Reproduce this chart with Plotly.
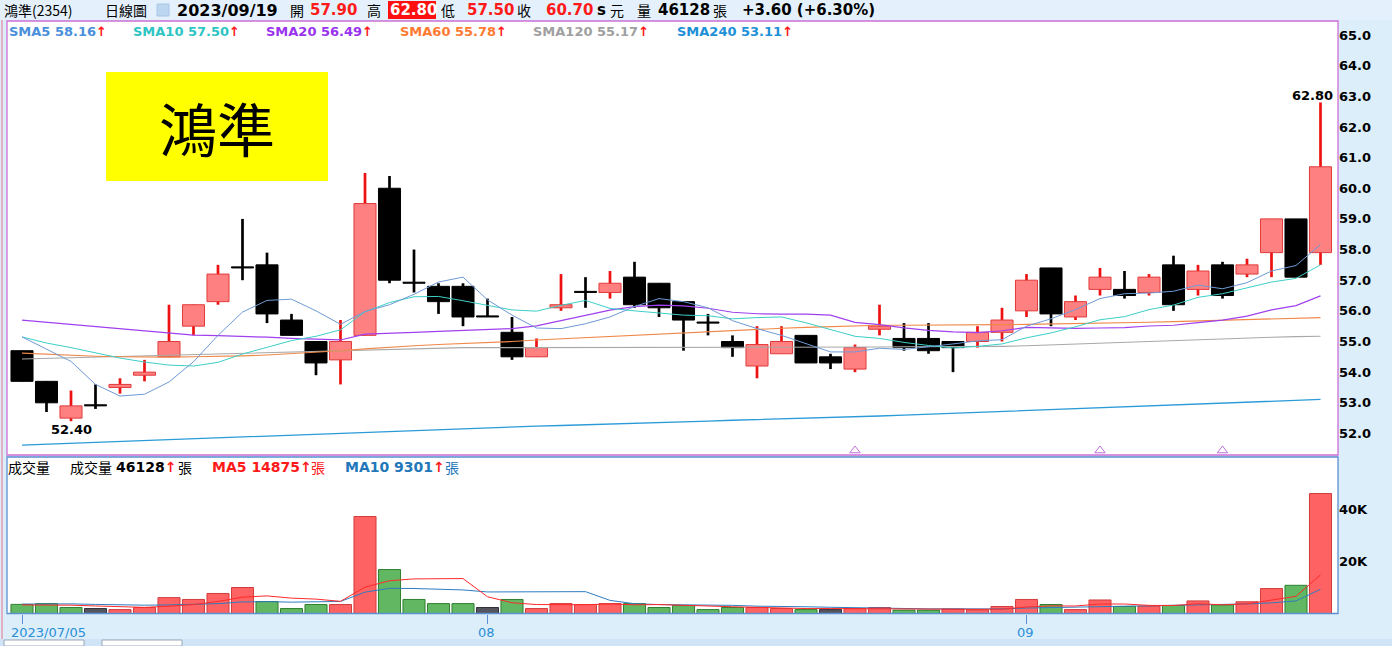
import plotly.graph_objects as go

# ---------------- data ----------------
dates = [
    "2023-07-05", "2023-07-06", "2023-07-07", "2023-07-10", "2023-07-11", "2023-07-12", "2023-07-13",
    "2023-07-14", "2023-07-17", "2023-07-18", "2023-07-19", "2023-07-20", "2023-07-21", "2023-07-24",
    "2023-07-25", "2023-07-26", "2023-07-27", "2023-07-28", "2023-07-31",
    "2023-08-01", "2023-08-02", "2023-08-04", "2023-08-07", "2023-08-08", "2023-08-09", "2023-08-10",
    "2023-08-11", "2023-08-14", "2023-08-15", "2023-08-16", "2023-08-17", "2023-08-18", "2023-08-21",
    "2023-08-22", "2023-08-23", "2023-08-24", "2023-08-25", "2023-08-28", "2023-08-29", "2023-08-30",
    "2023-08-31",
    "2023-09-01", "2023-09-04", "2023-09-05", "2023-09-06", "2023-09-07", "2023-09-08", "2023-09-11",
    "2023-09-12", "2023-09-13", "2023-09-14", "2023-09-15", "2023-09-18", "2023-09-19",
]
opens = [54.7, 53.7, 52.5, 52.9, 53.5, 53.9, 54.5, 55.5, 56.3, 57.4, 57.5, 55.7, 55.0, 54.4,
         55.2, 60.0, 56.9, 56.8, 56.8, 55.8, 55.3, 54.5, 56.1, 56.6, 56.6, 57.1, 56.9, 56.3,
         55.6, 55.0, 54.2, 54.6, 55.2, 54.5, 54.1, 55.4, 55.1, 55.1, 55.0, 55.0, 55.3, 56.0,
         57.4, 55.8, 56.7, 56.7, 56.6, 57.5, 56.7, 57.5, 57.2, 57.9, 59.0, 57.9]
highs = [54.7, 53.7, 53.4, 53.6, 53.8, 54.4, 56.2, 56.2, 57.5, 59.0, 57.9, 55.9, 55.0, 55.7,
         60.5, 60.4, 58.0, 56.9, 56.9, 56.4, 55.8, 55.1, 57.2, 57.1, 57.3, 57.6, 56.9, 56.3,
         55.9, 55.2, 55.5, 55.5, 55.2, 54.6, 54.9, 56.2, 55.6, 55.6, 55.0, 55.5, 56.1, 57.2,
         57.4, 56.5, 57.4, 57.3, 57.2, 57.8, 57.5, 57.6, 57.7, 59.0, 59.0, 62.8]
lows = [53.7, 52.7, 52.4, 52.8, 53.3, 53.7, 54.5, 55.2, 56.2, 57.0, 55.6, 55.2, 53.9, 53.6,
        55.2, 56.9, 56.6, 55.9, 55.5, 55.8, 54.4, 54.5, 56.0, 56.1, 56.4, 56.1, 55.8, 54.7,
        55.2, 54.5, 53.8, 54.6, 54.3, 54.1, 54.0, 55.2, 54.7, 54.6, 54.0, 54.8, 55.0, 55.8,
        55.5, 55.7, 56.5, 56.4, 56.5, 56.0, 56.5, 56.4, 57.1, 57.1, 57.1, 57.5]
closes = [53.7, 53.0, 52.9, 52.9, 53.6, 54.0, 55.0, 56.2, 57.2, 57.4, 55.9, 55.2, 54.3, 55.0,
          59.5, 57.0, 56.9, 56.3, 55.8, 55.8, 54.5, 54.8, 56.2, 56.6, 56.9, 56.2, 56.1, 55.7,
          55.6, 54.8, 54.9, 55.0, 54.3, 54.3, 54.8, 55.5, 54.8, 54.7, 54.8, 55.3, 55.7, 57.0,
          55.9, 56.3, 57.1, 56.5, 57.1, 56.2, 57.3, 56.5, 57.5, 59.0, 57.1, 60.7]
volumes = [3500, 3800, 2300, 1900, 1500, 2300, 6100, 5400, 7700, 10000, 4600, 1900, 3450, 3450,
           37300, 16900, 5400, 3800, 3800, 2300, 5400, 1900, 3800, 3450, 3800, 3800, 2300, 3050,
           1500, 2300, 2300, 1900, 1500, 1500, 1900, 2300, 1300, 1300, 1700, 1400, 2700, 5400,
           3450, 1500, 5200, 2700, 2800, 3100, 4835, 3300, 4500, 9600, 10847, 46128]

# moving-average values before enough in-window history
sma5_head = [55.15, 54.75, 54.35, 53.60]
sma10_head = [55.15, 54.95, 54.80, 54.62, 54.46, 54.33, 54.23, 54.20, 54.32]
sma20_head = [55.70, 55.63, 55.56, 55.48, 55.40, 55.33, 55.26, 55.21, 55.19, 55.17, 55.14,
              55.10, 55.07, 55.05, 55.24, 55.28, 55.30, 55.33, 55.36]
sma60 = [54.62, 54.58, 54.55, 54.52, 54.50, 54.49, 54.49, 54.50, 54.51, 54.53, 54.56, 54.60,
         54.64, 54.70, 54.76, 54.82, 54.86, 54.90, 54.93, 54.96, 55.00, 55.05, 55.09, 55.13,
         55.17, 55.21, 55.25, 55.29, 55.33, 55.37, 55.40, 55.43, 55.46, 55.49, 55.51, 55.53,
         55.53, 55.53, 55.53, 55.54, 55.55, 55.56, 55.57, 55.59, 55.60, 55.62, 55.63, 55.65,
         55.67, 55.69, 55.71, 55.73, 55.75, 55.78]
sma120 = [54.43, 54.45, 54.47, 54.49, 54.51, 54.53, 54.55, 54.57, 54.59, 54.61, 54.63, 54.65,
          54.67, 54.69, 54.72, 54.75, 54.77, 54.79, 54.80, 54.80, 54.80, 54.81, 54.81, 54.81,
          54.81, 54.82, 54.82, 54.82, 54.82, 54.82, 54.82, 54.82, 54.82, 54.82, 54.82, 54.82,
          54.83, 54.83, 54.83, 54.84, 54.84, 54.86, 54.89, 54.92, 54.95, 54.98, 55.01, 55.04,
          55.07, 55.10, 55.12, 55.14, 55.16, 55.17]
sma240 = [51.62, 51.65, 51.68, 51.71, 51.74, 51.77, 51.80, 51.83, 51.86, 51.89, 51.92, 51.95,
          51.98, 52.01, 52.04, 52.07, 52.11, 52.14, 52.16, 52.19, 52.21, 52.24, 52.26, 52.28,
          52.31, 52.33, 52.36, 52.38, 52.40, 52.43, 52.45, 52.47, 52.50, 52.52, 52.55, 52.57,
          52.60, 52.63, 52.66, 52.69, 52.72, 52.75, 52.78, 52.81, 52.84, 52.87, 52.90, 52.93,
          52.96, 52.99, 53.02, 53.05, 53.08, 53.11]
vma5_head = [3300, 3300, 3200, 2900]
vma10_head = [3600, 3700, 3700, 3500, 3300, 3200, 3300, 3500, 3800]
signal_idx = [34, 44, 49]

x_tick_idx = [0, 19, 41]
x_tick_text = ["2023/07/05", "08", "09"]
price_ticks = [52, 53, 54, 55, 56, 57, 58, 59, 60, 61, 62, 63, 64, 65]
vol_ticks = [20000, 40000]
vol_tick_text = ["20K", "40K"]
stock_name = "鴻準"
stock_code = "2354"


def moving(vals, n, head):
    out = list(head)
    for i in range(n - 1, len(vals)):
        out.append(sum(vals[i - n + 1:i + 1]) / n)
    return out


sma5 = moving(closes, 5, sma5_head)
sma10 = moving(closes, 10, sma10_head)
sma20 = moving(closes, 20, sma20_head)
vma5 = moving(volumes, 5, vma5_head)
vma10 = moving(volumes, 10, vma10_head)

# ---------------- geometry helpers ----------------
W, H = 1392, 646


def px(x):
    return x / W


def py(y):
    return 1 - y / H


PX_PER_PRICE = 30.65
MAIN_TOP, MAIN_BOT = 21, 455
VOL_TOP, VOL_BOT = 457, 613.5
LEFT, RIGHT = 7, 1338
price_hi = 65 + (35 - MAIN_TOP) / PX_PER_PRICE
price_lo = 65 - (MAIN_BOT - 35) / PX_PER_PRICE
vol_hi = (VOL_BOT - VOL_TOP) * 384.6

UP_FILL, UP_LINE, UP_WICK = "#FF8080", "#E23A3A", "#EE1111"
DN = "#000000"

fig = go.Figure()

n = len(dates)
is_up = [closes[i] > opens[i] for i in range(n)]

# wicks
fig.add_trace(go.Bar(
    x=dates, base=lows, y=[highs[i] - lows[i] for i in range(n)], width=0.11,
    marker=dict(color=[UP_WICK if u else DN for u in is_up], line=dict(width=0)),
    xaxis="x", yaxis="y", showlegend=False, hoverinfo="skip"))
# bodies
fig.add_trace(go.Bar(
    x=dates, base=[min(opens[i], closes[i]) for i in range(n)],
    y=[max(abs(closes[i] - opens[i]), 0.035) for i in range(n)], width=0.9,
    marker=dict(color=[UP_FILL if u else DN for u in is_up],
                line=dict(color=[UP_LINE if u else DN for u in is_up], width=1)),
    xaxis="x", yaxis="y", showlegend=False, hoverinfo="skip"))

ma_specs = [
    (sma240, "#2B9BD8", 1.3),
    (sma120, "#A8A8A8", 1.1),
    (sma60, "#F08848", 1.1),
    (sma20, "#A040EE", 1.2),
    (sma10, "#3CCFC8", 1.0),
    (sma5, "#6E9AD6", 1.0),
]
for vals, col, w in ma_specs:
    fig.add_trace(go.Scatter(x=dates, y=vals, mode="lines", line=dict(color=col, width=w),
                             xaxis="x", yaxis="y", showlegend=False, hoverinfo="skip"))

# small signal marks at the bottom edge of the price pane
fig.add_trace(go.Scatter(
    x=[dates[i] for i in signal_idx], y=[price_lo + 4.5 / PX_PER_PRICE] * len(signal_idx),
    mode="markers", marker=dict(symbol="triangle-up-open", size=9, color="#C070D8",
                                line=dict(width=1, color="#C070D8")),
    xaxis="x", yaxis="y", showlegend=False, hoverinfo="skip", cliponaxis=True))

# volume
vcol, vline = [], []
for i in range(n):
    ref = closes[i - 1] if i > 0 else opens[i]
    if closes[i] > ref:
        vcol.append("#FF6262"); vline.append("#D23C3C")
    elif closes[i] < ref:
        vcol.append("#62B862"); vline.append("#2F7F2F")
    else:
        vcol.append("#55555F"); vline.append("#303038")
fig.add_trace(go.Bar(x=dates, y=volumes, width=0.9,
                     marker=dict(color=vcol, line=dict(color=vline, width=1)),
                     xaxis="x2", yaxis="y2", showlegend=False, hoverinfo="skip"))
fig.add_trace(go.Scatter(x=dates, y=vma10, mode="lines", line=dict(color="#2E7DC0", width=1),
                         xaxis="x2", yaxis="y2", showlegend=False, hoverinfo="skip"))
fig.add_trace(go.Scatter(x=dates, y=vma5, mode="lines", line=dict(color="#FF2A2A", width=1),
                         xaxis="x2", yaxis="y2", showlegend=False, hoverinfo="skip"))

xr = [-(22 - LEFT) / 24.5, (RIGHT - 22) / 24.5]
BIGF = "DejaVu Sans"
CJK = "Noto Sans CJK TC"

fig.update_layout(
    width=W, height=H, margin=dict(l=0, r=0, t=0, b=0), autosize=False,
    paper_bgcolor="#DDEEFB", plot_bgcolor="#FFFFFF", barmode="overlay", hovermode=False,
    xaxis=dict(domain=[px(LEFT), px(RIGHT)], type="category", range=xr, showticklabels=False,
               showgrid=False, zeroline=False, showline=False, ticks="", anchor="y"),
    yaxis=dict(domain=[py(MAIN_BOT), py(MAIN_TOP)], range=[price_lo, price_hi], side="right",
               anchor="x", tickvals=price_ticks, ticktext=[f"{v:.1f}" for v in price_ticks],
               tickfont=dict(family=BIGF, size=13, color="#000000", weight="bold"),
               showgrid=False, zeroline=False, showline=False, ticks=""),
    xaxis2=dict(domain=[px(LEFT), px(RIGHT)], type="category", range=xr, anchor="y2",
                tickvals=[dates[i] for i in x_tick_idx], ticktext=["", "", ""], ticks="outside",
                ticklen=9, tickcolor="#5B8FD0", tickwidth=1, showgrid=False, zeroline=False,
                showline=False),
    yaxis2=dict(domain=[py(VOL_BOT), py(VOL_TOP)], range=[0, vol_hi], side="right", anchor="x2",
                tickvals=vol_ticks, ticktext=vol_tick_text,
                tickfont=dict(family=BIGF, size=13, color="#000000", weight="bold"),
                showgrid=False, zeroline=False, showline=False, ticks=""),
)

shapes = []
# header band
shapes.append(dict(type="rect", xref="paper", yref="paper", x0=0, x1=1, y0=py(20), y1=1,
                   fillcolor="#E4F1FC", line=dict(width=0), layer="below"))
# pane borders
shapes.append(dict(type="rect", xref="paper", yref="paper", x0=px(LEFT), x1=px(RIGHT),
                   y0=py(MAIN_BOT), y1=py(MAIN_TOP), line=dict(color="#CC6FD6", width=1.3)))
shapes.append(dict(type="rect", xref="paper", yref="paper", x0=px(LEFT), x1=px(RIGHT),
                   y0=py(VOL_BOT), y1=py(VOL_TOP), line=dict(color="#5B8FD0", width=1.3)))
shapes.append(dict(type="line", xref="paper", yref="paper", x0=px(2), x1=px(2), y0=0, y1=py(20),
                   line=dict(color="#E49AB0", width=1.5)))
# yellow name box
shapes.append(dict(type="rect", xref="paper", yref="paper", x0=px(106), x1=px(328),
                   y0=py(181), y1=py(72), fillcolor="#FFFF00", line=dict(width=0)))
# red box for the high
shapes.append(dict(type="rect", xref="paper", yref="paper", x0=px(388), x1=px(436),
                   y0=py(19), y1=py(1), fillcolor="#FF1010", line=dict(width=0)))
# small dropdown icon
shapes.append(dict(type="rect", xref="paper", yref="paper", x0=px(157), x1=px(169),
                   y0=py(16), y1=py(4), fillcolor="#BCD6F0", line=dict(color="#A8C6E6", width=1)))
# bottom toolbar
shapes.append(dict(type="rect", xref="paper", yref="paper", x0=0, x1=1, y0=0, y1=py(639),
                   fillcolor="#CFE4F6", line=dict(width=0)))
for a, b in [(4, 84), (102, 182)]:
    shapes.append(dict(type="rect", xref="paper", yref="paper", x0=px(a), x1=px(b), y0=0,
                       y1=py(640), fillcolor="#FFFFFF", line=dict(color="#9AA8B8", width=1)))
fig.update_layout(shapes=shapes)

ann = []


def text(x, y, s, color="#000000", size=13, bold=False, family=BIGF, anchor="left"):
    ann.append(dict(xref="paper", yref="paper", x=px(x), y=py(y), text=s, showarrow=False,
                    xanchor=anchor, yanchor="middle",
                    font=dict(family=family, size=size, color=color,
                              weight="bold" if bold else "normal")))


RED = "#FF1A1A"
last = n - 1
chg = closes[last] - closes[last - 1]
pct = chg / closes[last - 1] * 100
hy = 10.5
text(2, hy, f"{stock_name}({stock_code})", size=14, family=CJK)
text(103, hy, "日線圖", size=14, family=CJK)
text(175, hy, dates[last].replace("-", "/"), size=16, bold=True)
text(288, hy, "開", size=14, family=CJK)
text(308, hy, f"{opens[last]:.2f}", color=RED, size=15, bold=True)
text(365, hy, "高", size=14, family=CJK)
text(388, hy, f"{highs[last]:.2f}", color="#FFFFFF", size=15, bold=True)
text(439, hy, "低", size=14, family=CJK)
text(465, hy, f"{lows[last]:.2f}", color=RED, size=15, bold=True)
text(515, hy, "收", size=14, family=CJK)
text(544, hy, f"{closes[last]:.2f}", color=RED, size=15, bold=True)
text(595, hy, "s", size=15, bold=True)
text(608, hy, "元", size=14, family=CJK)
text(635, hy, "量", size=14, family=CJK)
text(656, hy, f"{volumes[last]}", size=15, bold=True)
text(711, hy, "張", size=14, family=CJK)
text(740, hy, f"{chg:+.2f} ({pct:+.2f}%)", size=15, bold=True)

ly = 31.5
legend_items = [
    ("SMA5", sma5, "#4A8FDB", 7),
    ("SMA10", sma10, "#2EC4C4", 131),
    ("SMA20", sma20, "#9933EE", 264),
    ("SMA60", sma60, "#FF7A33", 398),
    ("SMA120", sma120, "#A0A0A0", 531),
    ("SMA240", sma240, "#1E90D8", 675),
]
for name, vals, col, x0 in legend_items:
    s = f"{name} {vals[last]:.2f}"
    text(x0, ly, f"{s}<span style='color:{RED}'>↑</span>", color=col, size=13, bold=True)

vy = 467
text(6, vy, "成交量", size=14, family=CJK)
text(68, vy, "成交量", size=14, family=CJK)
text(114, vy, f"{volumes[last]}<span style='color:{RED}'>↑</span>", size=14, bold=True)
text(176, vy, "張", size=14, family=CJK)
text(210, vy, f"MA5 {vma5[last]:.0f}↑", color="#FF1A1A", size=14, bold=True)
text(309, vy, "張", color="#FF1A1A", size=14, family=CJK)
text(343, vy, f"MA10 {vma10[last]:.0f}<span style='color:{RED}'>↑</span>", color="#2277BB",
     size=14, bold=True)
text(443, vy, "張", color="#2277BB", size=14, family=CJK)

# name in yellow box
text(217, 126.5, stock_name, size=58, family=CJK, anchor="center")

# x-axis labels
xl = 632.5
ann.append(dict(xref="x2", yref="paper", x=dates[x_tick_idx[0]], y=py(xl), text=x_tick_text[0],
                showarrow=False, xanchor="left", yanchor="middle", xshift=-13,
                font=dict(family=BIGF, size=13, color="#2B8FD6")))
for i, t in zip(x_tick_idx[1:], x_tick_text[1:]):
    ann.append(dict(xref="x2", yref="paper", x=dates[i], y=py(xl), text=t, showarrow=False,
                    xanchor="center", yanchor="middle", xshift=-1,
                    font=dict(family=BIGF, size=13, color="#2B8FD6")))

# high / low labels
lo_i = min(range(n), key=lambda i: lows[i])
hi_i = max(range(n), key=lambda i: highs[i])
ann.append(dict(xref="x", yref="y", x=dates[lo_i], y=lows[lo_i], text=f"{lows[lo_i]:.2f}",
                showarrow=False, xanchor="center", yanchor="middle", yshift=-8.5,
                font=dict(family=BIGF, size=13, color="#000000", weight="bold")))
ann.append(dict(xref="x", yref="y", x=dates[hi_i], y=highs[hi_i], text=f"{highs[hi_i]:.2f}",
                showarrow=False, xanchor="center", yanchor="middle", yshift=7, xshift=-8.5,
                font=dict(family=BIGF, size=13, color="#000000", weight="bold")))

fig.update_layout(annotations=ann)
fig.write_html("out.html", config={"displayModeBar": False},
               post_script="document.body.style.margin='0';document.body.style.padding='0';"
                           "document.body.style.overflow='hidden';")
